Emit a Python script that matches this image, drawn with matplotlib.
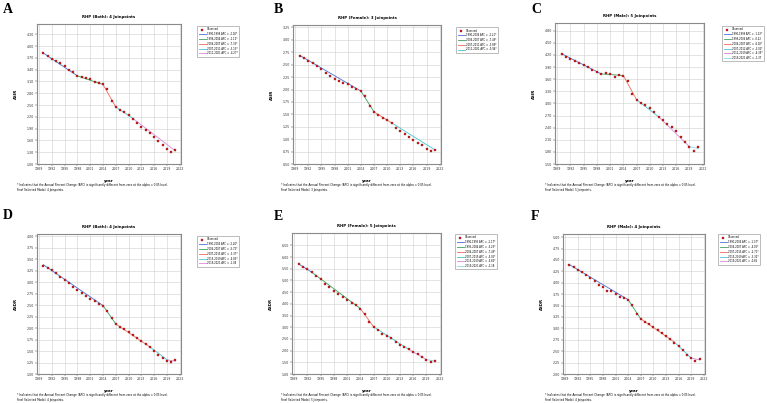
import numpy as np
import matplotlib.pyplot as plt

W, H = 767, 403
years = np.arange(1990, 2022)

# observed rates, one list per panel
obsA = [3.81, 3.75, 3.68, 3.62, 3.56, 3.49, 3.40, 3.33, 3.25, 3.20, 3.19, 3.16, 3.09, 3.07, 3.03, 2.90,
        2.61, 2.45, 2.38, 2.31, 2.24, 2.15, 2.03, 1.95, 1.87, 1.78, 1.69, 1.59, 1.48, 1.39, 1.30, 1.36]
obsB = [2.68, 2.63, 2.58, 2.53, 2.47, 2.41, 2.34, 2.27, 2.21, 2.17, 2.14, 2.11, 2.06, 2.01, 1.97, 1.87,
        1.67, 1.54, 1.48, 1.43, 1.38, 1.32, 1.22, 1.16, 1.10, 1.04, 0.99, 0.93, 0.88, 0.81, 0.76, 0.79]
obsC = [4.22, 4.16, 4.10, 4.06, 4.00, 3.95, 3.89, 3.82, 3.77, 3.72, 3.75, 3.74, 3.65, 3.71, 3.68, 3.55,
        3.23, 3.09, 3.01, 2.96, 2.89, 2.78, 2.67, 2.60, 2.50, 2.41, 2.32, 2.17, 2.04, 1.93, 1.83, 1.91]
obsD = [3.36, 3.31, 3.26, 3.19, 3.12, 3.05, 2.98, 2.90, 2.83, 2.76, 2.70, 2.64, 2.59, 2.53, 2.48, 2.37,
        2.21, 2.09, 2.03, 1.97, 1.91, 1.84, 1.78, 1.71, 1.65, 1.58, 1.51, 1.42, 1.34, 1.29, 1.26, 1.30]
obsE = [5.70, 5.59, 5.47, 5.35, 5.20, 5.05, 4.87, 4.70, 4.55, 4.42, 4.29, 4.17, 4.05, 3.93, 3.79, 3.56,
        3.23, 3.02, 2.87, 2.73, 2.63, 2.52, 2.37, 2.26, 2.15, 2.05, 1.95, 1.85, 1.73, 1.62, 1.52, 1.56]
obsF = [4.39, 4.34, 4.29, 4.23, 4.18, 4.11, 4.05, 3.96, 3.90, 3.83, 3.81, 3.76, 3.69, 3.67, 3.63, 3.52,
        3.32, 3.21, 3.14, 3.09, 3.04, 2.96, 2.90, 2.83, 2.76, 2.69, 2.61, 2.52, 2.42, 2.35, 2.29, 2.32]

# joinpoint model: segment end years and fitted values there
jpA = [1990, 1998, 2004, 2007, 2011, 2021]; fitA = [3.82, 3.24, 3.02, 2.45, 2.16, 1.33]
jpB = [1990, 2004, 2007, 2011, 2021];       fitB = [2.69, 1.97, 1.55, 1.33, 0.78]
jpC = [1990, 1999, 2004, 2007, 2012, 2019, 2021]; fitC = [4.23, 3.73, 3.69, 3.09, 2.67, 1.93, 1.88]
jpD = [1990, 2004, 2007, 2015, 2019, 2021]; fitD = [3.38, 2.49, 2.09, 1.59, 1.31, 1.28]
jpE = [1990, 1993, 2004, 2007, 2015, 2019, 2021]; fitE = [5.71, 5.35, 3.80, 3.02, 2.05, 1.62, 1.55]
jpF = [1990, 2004, 2007, 2015, 2019, 2021]; fitF = [4.40, 3.63, 3.21, 2.70, 2.35, 2.31]

apcA = ["-2.02*", "-1.12*", "-7.33*", "-3.13*", "-4.27*"]
apcB = ["-2.21*", "-7.49*", "-3.89*", "-5.94*"]
apcC = ["-1.32*", "-0.22", "-6.02*", "-3.02*", "-4.35*", "-1.37"]
apcD = ["-2.20*", "-5.72*", "-3.37*", "-4.83*", "-1.08"]
apcE = ["-2.17*", "-3.23*", "-7.49*", "-5.06*", "-5.66*", "-2.18"]
apcF = ["-1.37*", "-4.02*", "-2.71*", "-3.32*", "-0.86"]

titles = ["RHP (Both): 4 Joinpoints", "RHP (Female): 3 Joinpoints", "RHP (Male): 5 Joinpoints",
          "RHP (Both): 4 Joinpoints", "RHP (Female): 5 Joinpoints", "RHP (Male): 4 Joinpoints"]
ylabels = ["ASIR", "ASIR", "ASIR", "ASDR", "ASDR", "ASDR"]
letters = ["A", "B", "C", "D", "E", "F"]
nsel = [4, 3, 5, 4, 5, 4]

# y ticks per panel: start, step, count, top limit
yticks = [(1.0, 0.3, 12, 4.56), (0.5, 0.25, 12, 3.30), (1.5, 0.3, 12, 4.99),
          (1.0, 0.25, 13, 4.05), (1.0, 0.5, 12, 7.03), (2.0, 0.25, 13, 5.07)]

# layout in pixels
boxes = [(37, 24, 181, 164), (293, 25, 441, 164), (555, 23, 704, 164),
         (37, 234, 181, 374), (292, 233, 441, 374), (563, 234, 705, 374)]
legpos = [(196, 25), (455, 26), (721, 25), (196, 235), (454, 233), (717, 233)]
letpos = [(3, 13), (274, 13), (531, 13), (3, 219), (274, 220), (531, 220)]
notex = [17, 281, 545, 17, 281, 545]

seg_colors = ["#4a6fd6", "#3aa05a", "#f06a5a", "#41c8d0", "#d98ad9", "#8ad8e8"]

obs = [obsA, obsB, obsC, obsD, obsE, obsF]
jps = [jpA, jpB, jpC, jpD, jpE, jpF]
fits = [fitA, fitB, fitC, fitD, fitE, fitF]
apcs = [apcA, apcB, apcC, apcD, apcE, apcF]

fig = plt.figure(figsize=(W/100, H/100), dpi=100)

def px(l, t, r, b):
    return [l/W, 1-b/H, (r-l)/W, (b-t)/H]

for i in range(6):
    l, t, r, b = boxes[i]
    ax = fig.add_axes(px(l, t, r, b))
    y0, dy, n, ytop = yticks[i]
    ax.set_ylim(y0, ytop)
    ax.set_yticks([y0 + k*dy for k in range(n)])
    ax.set_yticklabels(["%.2f" % (y0 + k*dy) for k in range(n)])
    ax.set_xlim(1988.5, 2022.3)
    ax.set_xticks(range(1989, 2023, 3))
    ax.tick_params(labelsize=2.3, length=1.2, width=0.3, pad=1, colors="#333333")
    ax.grid(True, color="#d0d0d0", lw=0.4)
    ax.set_axisbelow(True)
    for s in ax.spines.values():
        s.set_color("#8a8a8a")
        s.set_linewidth(0.8)

    handles = []
    h = ax.plot(years, obs[i], ls="none", marker="s", ms=2.0, mfc="#d42020",
                mec="#7a1010", mew=0.2, zorder=3)[0]
    handles.append(h)
    labels = ["Observed"]
    jp, ft = jps[i], fits[i]
    for k in range(len(jp)-1):
        hl = ax.plot(jp[k:k+2], ft[k:k+2], color=seg_colors[k], lw=0.6, zorder=2)[0]
        handles.append(hl)
        labels.append("%d-%d APC = %s" % (jp[k], jp[k+1], apcs[i][k]))

    ax.set_title(titles[i], fontsize=2.8, fontweight="bold", pad=4)
    ax.set_xlabel("year", fontsize=2.8, fontweight="bold", labelpad=6)
    ax.set_ylabel(ylabels[i], fontsize=2.8, fontweight="bold", labelpad=6)

    lx, ly = legpos[i]
    fig.legend(handles, labels, loc="upper left", bbox_to_anchor=(lx/W, 1-ly/H),
               fontsize=1.8, frameon=True, fancybox=False, edgecolor="#8a8a8a",
               handlelength=2.8, labelspacing=0.3, borderpad=0.5, handletextpad=0.7,
               markerscale=1.0).get_frame().set_linewidth(0.5)

    fig.text(letpos[i][0]/W, 1-letpos[i][1]/H, letters[i], fontsize=10, fontweight="bold",
             family="Liberation Serif", va="baseline")
    fig.text(notex[i]/W, 1-(b+21)/H,
             "* Indicates that the Annual Percent Change (APC) is significantly different from zero at the alpha = 0.05 level.",
             fontsize=2.0, va="center")
    fig.text(notex[i]/W, 1-(b+26)/H, "Final Selected Model: %d Joinpoints." % nsel[i],
             fontsize=2.0, va="center")

fig.savefig("out.png", dpi=100)
